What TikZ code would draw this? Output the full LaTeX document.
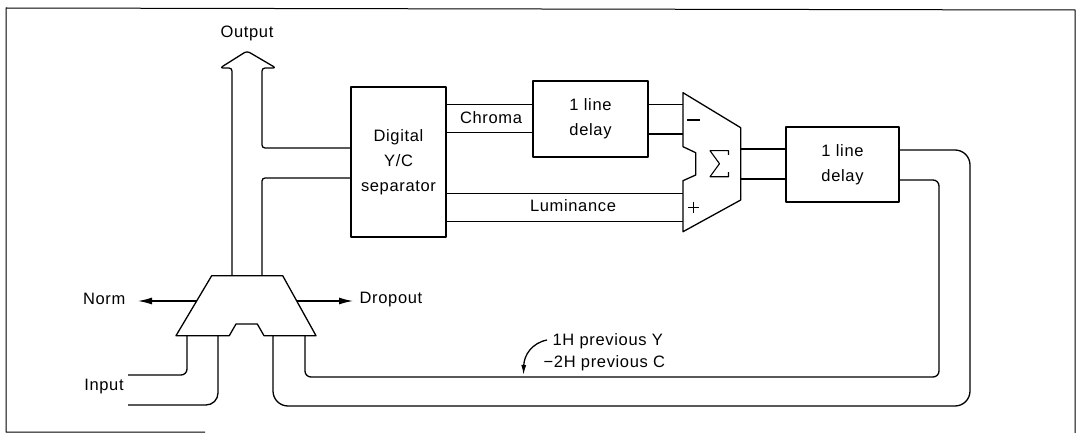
\documentclass[tikz,border=0pt]{standalone}
\usepackage{fontspec}
\setmainfont{Liberation Sans}[LetterSpace=4]
\usetikzlibrary{arrows.meta}
\begin{document}
\begin{tikzpicture}[x=1pt,y=-1pt, line width=1.3pt, line join=round,
  box/.style={draw, align=center, inner sep=0pt, font=\fontsize{16.5}{25}\selectfont},
  lbl/.style={inner sep=0pt, font=\fontsize{16.5}{25}\selectfont},
  tip/.style={-{Latex[length=14pt,width=7pt]}},
  smalltip/.style={-{Latex[length=10pt,width=5pt]}}]
\useasboundingbox (0,0) rectangle (1087,433);
% frame
\draw[line width=1pt] (205,432) -- (6,432) -- (6,8) -- (1075,10) -- (1075,433);

% boxes
\node[box, minimum width=95pt, minimum height=150pt] (sep) at (398.5,162) {Digital\\Y/C\\separator};
\node[box, minimum width=115pt, minimum height=76pt] (d1) at (590.5,119) {1 line\\delay};
\node[box, minimum width=113pt, minimum height=75pt] (d2) at (842.5,164.5) {1 line\\delay};

% summing block
\draw (683,92.7) -- (740.7,127.7) -- (740.7,200) -- (683,231.7) -- (683,180.7)
  -- (695.7,175) -- (695.7,152.7) -- (683,146.7) -- cycle;
\draw[line width=1.1pt] (728.5,155) -- (728.5,150.7) -- (710,150.7) -- (719.5,163.7) -- (710,176.7) -- (728.5,176.7) -- (728.5,172);
\draw (687,120) -- (700,120);
\draw (688,207.3) -- (698.6,207.3) (693.3,202) -- (693.3,212.6);

% multiplexer
\draw (211.7,275.7) -- (282.7,275.7) -- (316,335.7) -- (264,335.7) -- (257.3,324)
  -- (236,324) -- (229.3,335.7) -- (176,335.7) -- cycle;

% output arrow and T branch
\coordinate (otip) at (247,51);
\draw[rounded corners=3pt] (232,275.7) -- (232,68) -- (220,68) -- (otip) -- (276,68) -- (262,68)
  -- (262,148) -- (sep.west |- 0,148);
\draw[rounded corners=3pt] (sep.west |- 0,178) -- (262,178) -- (262,275.7);
\node[lbl] (out) at (247,33) {Output};

% chroma pipe
\draw (sep.east |- 0,104.3) -- (d1.west |- 0,104.3);
\draw (sep.east |- 0,132.3) -- (d1.west |- 0,132.3);
\node[lbl] (chroma) at (491,118) {Chroma};
% delay1 to sum
\draw (d1.east |- 0,104.3) -- (683,104.3);
\draw (d1.east |- 0,134) -- (683,134);
% luminance
\draw (sep.east |- 0,193.3) -- (683,193.3);
\draw (sep.east |- 0,221.7) -- (683,221.7);
\node[lbl] (lum) at (573,206) {Luminance};
% sum to delay2
\draw (740.7,149) -- (d2.west |- 0,149);
\draw (740.7,179) -- (d2.west |- 0,179);

% feedback pipe
\draw[rounded corners=15pt] (d2.east |- 0,150) -- (970,150) -- (970,406) -- (273,406) -- (273,335.7);
\draw[rounded corners=6pt] (d2.east |- 0,180) -- (939,180) -- (939,377) -- (305,377) -- (305,335.7);

% input pipe
\draw[rounded corners=6pt] (128,375) -- (187,375) -- (187,335.7);
\draw[rounded corners=12pt] (128,405) -- (218,405) -- (218,335.7);
\node[lbl] (input) at (104,387) {Input};

% norm / dropout
\coordinate (nl) at (196.7,301);
\coordinate (nr) at (296.7,301);
\node[lbl, anchor=east] (norm) at (126,299) {Norm};
\node[lbl, anchor=west] (drop) at (359,300) {Dropout};
\draw[tip] (nl) -- (138,301);
\draw[tip] (nr) -- (353,301);

% annotation
\node[lbl, anchor=west] (ann1) at (552,341) {1H previous Y};
\node[lbl, anchor=west] (ann2) at (543,363) {−2H previous C};
\draw[smalltip] (547,340) .. controls (532,343) and (524,355) .. (523.5,375);
\end{tikzpicture}
\end{document}
